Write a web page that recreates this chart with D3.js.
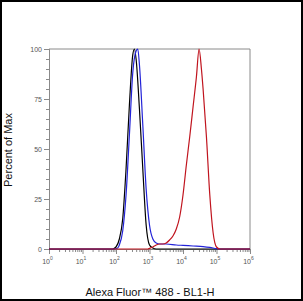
<!DOCTYPE html>
<html><head><meta charset="utf-8">
<script src="https://cdn.jsdelivr.net/npm/d3@7"></script>
<style>
html,body{margin:0;padding:0;background:#fff;}
svg{display:block;}
</style></head>
<body>
<svg id="c" width="303" height="301"></svg>
<script>
// Data: x = log10 of channel value, y = percent of max
const blackLog = [0, 1.9, 2.0, 2.1, 2.2, 2.3, 2.4, 2.5, 2.55, 2.6, 2.7, 2.8, 2.9, 3.0, 3.1, 3.2, 6];
const blackPct = [0, 0, 1, 5, 15, 40, 72, 97, 100, 95, 70, 40, 12, 2, 0.5, 0, 0];

const blueLog = [0, 1.95, 2.05, 2.1, 2.2, 2.3, 2.4, 2.5, 2.6, 2.65, 2.7, 2.8, 2.9, 3.0, 3.1, 3.2, 3.3, 3.5, 3.8, 4.0, 4.3, 4.6, 4.8, 5.0, 5.1, 6];
const bluePct = [0, 0, 0.5, 2, 9, 27, 57, 88, 99, 100, 92, 62, 30, 12, 5, 3, 2.5, 2.5, 2, 1.8, 1.5, 1.2, 0.8, 0.2, 0, 0];

const redLog = [0, 2.95, 3.0, 3.1, 3.2, 3.3, 3.4, 3.5, 3.6, 3.7, 3.8, 3.9, 4.0, 4.1, 4.2, 4.3, 4.4, 4.48, 4.55, 4.6, 4.7, 4.8, 4.9, 5.0, 5.1, 6];
const redPct = [0, 0, 0.3, 1, 2, 2.5, 2.5, 3, 4.5, 6.5, 10, 16, 27, 42, 56, 71, 86, 100, 90, 80, 56, 27, 8, 1, 0, 0];

const xDecades = [0, 1, 2, 3, 4, 5, 6];
const yTicks = [0, 25, 50, 75, 100];
const xTitle = "Alexa Fluor™ 488 - BL1-H";
const yTitle = "Percent of Max";

const svg = d3.select("#c");
const W = 303, H = 301;
const m = {l: 49, r: 53, t: 49, b: 52};
const x = d3.scaleLog().domain([1, 1e6]).range([m.l, W - m.r]);
const y = d3.scaleLinear().domain([0, 100]).range([H - m.b, m.t]);

// outer border
svg.append("rect").attr("x", 1).attr("y", 1).attr("width", W - 2).attr("height", H - 2)
  .attr("fill", "#fff").attr("stroke", "#000").attr("stroke-width", 2);

const axisColor = "#8a8a8a";
const labelColor = "#555";

// frame top/right
svg.append("path")
  .attr("d", `M${m.l},${y(100)}H${x(1e6)}V${y(0)}`)
  .attr("fill", "none").attr("stroke", axisColor).attr("stroke-width", 1);

// y minor ticks
const yMinor = d3.range(0, 101, 5).filter(v => v % 25 !== 0);
const gyMin = svg.append("g").attr("transform", `translate(${m.l},0)`)
  .call(d3.axisLeft(y).tickValues(yMinor).tickSize(3).tickFormat(""));
const gy = svg.append("g").attr("transform", `translate(${m.l},0)`)
  .call(d3.axisLeft(y).tickValues(yTicks).tickSize(5).tickPadding(2));
[gyMin, gy].forEach(g => {
  g.selectAll("path,line").attr("stroke", axisColor);
  g.selectAll("text").attr("fill", labelColor).attr("font-size", 7)
    .attr("font-family", "'Liberation Sans', Arial, sans-serif");
});

// x minor ticks
const xMinor = [];
for (let k = 0; k < 6; k++) for (let j = 2; j <= 9; j++) xMinor.push(j * Math.pow(10, k));
const gxMin = svg.append("g").attr("transform", `translate(0,${y(0)})`)
  .call(d3.axisBottom(x).tickValues(xMinor).tickSize(3).tickFormat(""));
const gx = svg.append("g").attr("transform", `translate(0,${y(0)})`)
  .call(d3.axisBottom(x).tickValues(xDecades.map(d => Math.pow(10, d))).tickSize(5).tickFormat(""));
[gxMin, gx].forEach(g => {
  g.selectAll("path,line").attr("stroke", axisColor);
});
gx.selectAll(".tick").each(function(d, i) {
  const t = d3.select(this).append("text")
    .attr("y", 15).attr("x", -2).attr("text-anchor", "middle")
    .attr("fill", labelColor).attr("font-size", 7)
    .attr("font-family", "'Liberation Sans', Arial, sans-serif");
  t.append("tspan").text("10");
  t.append("tspan").attr("dy", -4).attr("font-size", 5).text(String(xDecades[i]));
});

// curves
const line = d3.line().x(d => x(Math.pow(10, d[0]))).y(d => y(d[1])).curve(d3.curveMonotoneX);
const series = [
  {lx: blackLog, py: blackPct, color: "#000000"},
  {lx: blueLog, py: bluePct, color: "#2323d8"},
  {lx: redLog, py: redPct, color: "#c0141e"}
];
series.forEach(s => {
  svg.append("path")
    .datum(s.lx.map((v, i) => [v, s.py[i]]))
    .attr("d", line)
    .attr("fill", "none").attr("stroke", s.color).attr("stroke-width", 1.2);
});

// titles
svg.append("text").attr("x", 150).attr("y", 296).attr("text-anchor", "middle")
  .attr("font-family", "'Liberation Sans', Arial, sans-serif").attr("font-size", 11)
  .attr("fill", "#111").text(xTitle);
svg.append("text").attr("transform", "translate(12,150) rotate(-90)").attr("text-anchor", "middle")
  .attr("font-family", "'Liberation Sans', Arial, sans-serif").attr("font-size", 11)
  .attr("fill", "#111").text(yTitle);
</script>
</body></html>
